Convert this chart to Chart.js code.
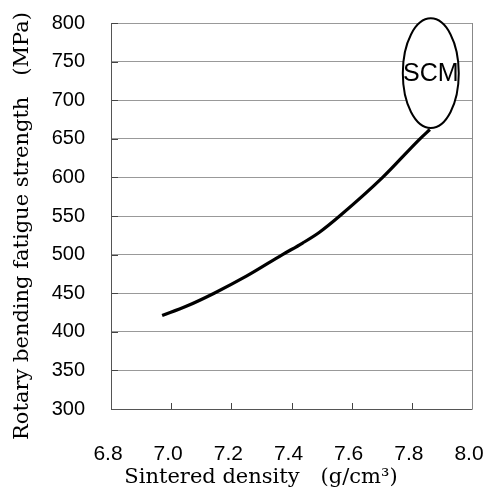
<!DOCTYPE html>
<html>
<head>
<meta charset="utf-8">
<script src="https://cdn.jsdelivr.net/npm/chart.js@4.4.0/dist/chart.umd.min.js"></script>
<style>
  html, body { margin: 0; padding: 0; background: #fff; }
  #wrap { width: 484px; height: 488px; }
</style>
</head>
<body>
<div id="wrap"><canvas id="c" width="484" height="488"></canvas></div>
<script>
// Data
const density = [6.97, 7.05, 7.143, 7.25, 7.37, 7.437, 7.493, 7.56, 7.703, 7.827, 7.86];
const strength = [421, 433, 450, 472, 500, 515, 529, 550, 600, 650, 662];
const xTicks = [6.8, 7.0, 7.2, 7.4, 7.6, 7.8, 8.0];
const yTicks = [300, 350, 400, 450, 500, 550, 600, 650, 700, 750, 800];
const ellipseLabel = "SCM";
const ellipseCenter = [7.863, 735];
const ellipseHalfAxes = [0.093, 71];

const points = density.map((d, i) => ({ x: d, y: strength[i] }));

const ellipsePlugin = {
  id: 'ellipse',
  afterDatasetsDraw(chart) {
    const { ctx, scales: { x, y } } = chart;
    const cx = x.getPixelForValue(ellipseCenter[0]);
    const cy = y.getPixelForValue(ellipseCenter[1]);
    const rx = Math.abs(x.getPixelForValue(ellipseCenter[0] + ellipseHalfAxes[0]) - cx);
    const ry = Math.abs(y.getPixelForValue(ellipseCenter[1] + ellipseHalfAxes[1]) - cy);
    ctx.save();
    ctx.beginPath();
    ctx.ellipse(cx, cy, rx, ry, 0, 0, Math.PI * 2);
    ctx.fillStyle = '#fff';
    ctx.fill();
    ctx.lineWidth = 2;
    ctx.strokeStyle = '#000';
    ctx.stroke();
    ctx.fillStyle = '#000';
    ctx.font = '25px "Liberation Sans", Arial, sans-serif';
    ctx.textAlign = 'center';
    ctx.textBaseline = 'middle';
    ctx.fillText(ellipseLabel, cx, cy + 1);
    ctx.restore();
  }
};

const tickMarkPlugin = {
  id: 'tickMarks',
  afterDraw(chart) {
    const { ctx, chartArea: a, scales: { x, y } } = chart;
    ctx.save();
    ctx.strokeStyle = '#444';
    ctx.lineWidth = 1;
    ctx.beginPath();
    xTicks.forEach(v => {
      const px = Math.round(x.getPixelForValue(v)) + 0.5;
      ctx.moveTo(px, a.bottom);
      ctx.lineTo(px, a.bottom - 6);
    });
    yTicks.forEach(v => {
      const py = Math.round(y.getPixelForValue(v)) + 0.5;
      ctx.moveTo(a.left, py);
      ctx.lineTo(a.left + 7, py);
    });
    ctx.stroke();
    ctx.strokeStyle = '#555';
    ctx.beginPath();
    ctx.moveTo(Math.round(a.left) + 0.5, a.top);
    ctx.lineTo(Math.round(a.left) + 0.5, Math.round(a.bottom) + 0.5);
    ctx.lineTo(Math.round(a.right) + 0.5, Math.round(a.bottom) + 0.5);
    ctx.stroke();
    ctx.strokeStyle = '#888';
    ctx.beginPath();
    ctx.moveTo(Math.round(a.right) + 0.5, a.top);
    ctx.lineTo(Math.round(a.right) + 0.5, a.bottom);
    ctx.stroke();
    ctx.restore();
  }
};

new Chart(document.getElementById('c'), {
  type: 'scatter',
  data: {
    datasets: [{
      data: points,
      showLine: true,
      borderColor: '#000',
      borderWidth: 3.2,
      pointRadius: 0,
      cubicInterpolationMode: 'monotone',
      fill: false
    }]
  },
  options: {
    responsive: false,
    animation: false,
    layout: { padding: { top: 23, right: 12, left: 0, bottom: 0 } },
    plugins: { legend: { display: false }, tooltip: { enabled: false } },
    scales: {
      x: {
        type: 'linear',
        min: 6.8, max: 8.0,
        afterBuildTicks(s) { s.ticks = xTicks.map(v => ({ value: v })); },
        afterFit(s) { s.height = 79; s.paddingLeft = 0; s.paddingRight = 0; },
        grid: { display: false, drawTicks: false },
        border: { display: false },
        ticks: {
          padding: 33,
          labelOffset: -3,
          color: '#000',
          font: { family: '"Liberation Sans", Arial, sans-serif', size: 21 },
          callback: v => v.toFixed(1),
          maxRotation: 0
        },
        title: {
          display: true,
          align: 'start',
          text: '  Sintered density\u3000(g/cm\u00B3)',
          color: '#000',
          font: { family: '"DejaVu Serif", serif', size: 21, lineHeight: 1 },
          padding: { top: 0, bottom: 0 }
        }
      },
      y: {
        min: 300, max: 800,
        afterBuildTicks(s) { s.ticks = yTicks.map(v => ({ value: v })); },
        afterFit(s) { s.width = 111; s.paddingTop = 0; s.paddingBottom = 0; },
        grid: { color: '#999', lineWidth: 1, drawTicks: false },
        border: { display: false },
        ticks: {
          padding: 26,
          color: '#000',
          font: { family: '"Liberation Sans", Arial, sans-serif', size: 20 }
        },
        title: {
          display: true,
          text: 'Rotary bending fatigue strength\u3000(MPa)   ',
          color: '#000',
          font: { family: '"DejaVu Serif", serif', size: 21, lineHeight: 1 },
          padding: { top: 12, bottom: 0 }
        }
      }
    }
  },
  plugins: [ellipsePlugin, tickMarkPlugin]
});
</script>
</body>
</html>
